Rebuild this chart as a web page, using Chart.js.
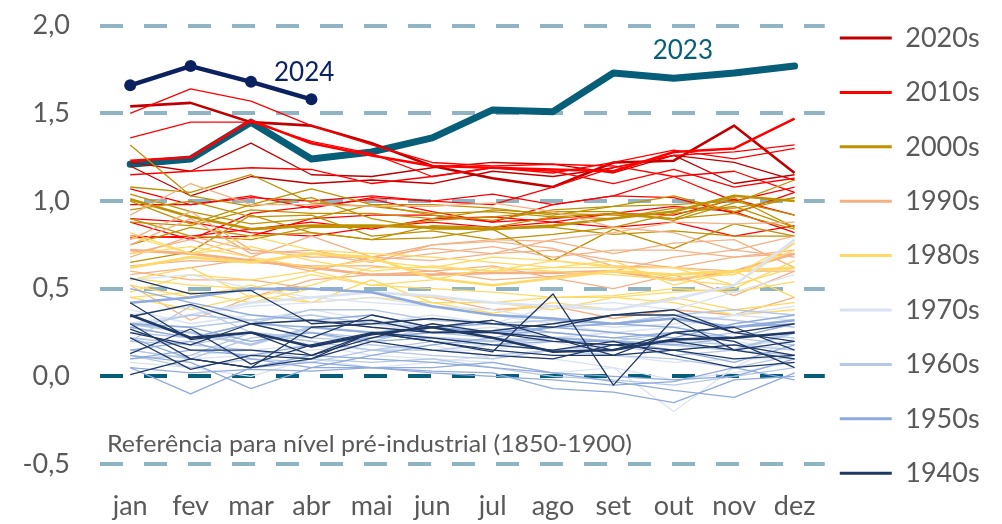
<!DOCTYPE html>
<html>
<head>
<meta charset="utf-8">
<script src="https://cdn.jsdelivr.net/npm/chart.js@4.4.0/dist/chart.umd.min.js"></script>
<style>
  html, body { margin: 0; padding: 0; background: #fff; }
</style>
</head>
<body>
<canvas id="mycanvas" width="1002" height="524"></canvas>
<script>
var months = ['jan','fev','mar','abr','mai','jun','jul','ago','set','out','nov','dez'];
var yTicks = [-0.5, 0, 0.5, 1, 1.5, 2];
var decades = ['2020s','2010s','2000s','1990s','1980s','1970s','1960s','1950s','1940s'];

var y2024 = [1.66,1.77,1.68,1.58];
var y2023 = [1.21,1.24,1.45,1.24,1.28,1.36,1.52,1.51,1.73,1.70,1.73,1.77];

// one row per year, first row of each decade is the named (thicker) one
var y2020s = [
  [1.54,1.56,1.45,1.43,1.33,1.20,1.13,1.08,1.22,1.23,1.43,1.16],
  [1.20,1.03,1.14,1.10,1.12,1.10,1.17,1.14,1.19,1.26,1.22,1.12],
  [1.22,1.17,1.33,1.15,1.14,1.19,1.22,1.21,1.16,1.26,1.10,1.15]
];
var y2010s = [
  [1.23,1.25,1.46,1.33,1.26,1.20,1.19,1.18,1.17,1.28,1.30,1.47],
  [1.50,1.64,1.57,1.43,1.32,1.22,1.20,1.21,1.20,1.14,1.17,1.05],
  [1.36,1.45,1.45,1.34,1.27,1.14,1.19,1.17,1.10,1.18,1.08,1.13],
  [1.15,1.17,1.19,1.18,1.10,1.14,1.19,1.16,1.22,1.29,1.24,1.30],
  [1.07,0.98,1.02,1.00,1.03,1.00,1.04,0.98,1.03,1.14,1.00,1.08],
  [0.98,0.98,1.03,0.96,1.02,1.00,0.98,1.08,1.19,1.26,1.28,1.32],
  [0.88,0.78,0.93,0.97,1.01,0.94,0.88,0.98,1.03,1.02,0.93,1.05],
  [0.90,0.88,0.82,0.80,0.85,0.88,0.85,0.88,0.93,0.92,1.01,0.92],
  [0.80,0.79,0.80,0.90,0.92,0.92,0.88,0.90,0.93,0.97,0.94,0.82],
  [0.79,0.80,0.84,0.88,0.84,0.90,0.91,0.88,0.85,0.88,0.80,0.86]
];
var y2000s = [
  [1.01,0.91,0.84,0.86,0.86,0.85,0.84,0.86,0.90,0.94,1.03,1.00],
  [0.88,0.86,0.95,0.93,0.93,0.90,0.95,0.93,0.92,0.90,1.02,0.85],
  [1.08,1.05,1.15,0.99,0.97,0.93,0.94,0.91,0.93,0.90,0.93,0.84],
  [1.04,0.94,0.87,0.90,0.98,0.92,0.89,0.95,0.97,1.03,0.94,1.02],
  [0.95,1.00,0.91,0.92,0.80,0.83,0.78,0.81,0.85,0.93,0.97,0.85],
  [1.00,0.87,0.98,1.07,0.98,0.98,0.96,0.92,0.97,0.98,1.00,0.92],
  [0.75,0.85,0.80,0.82,0.78,0.86,0.85,0.91,0.90,0.96,0.96,1.02],
  [1.32,1.03,0.97,1.02,0.90,0.84,0.84,0.85,0.81,0.83,0.80,0.80],
  [0.65,0.71,0.92,0.82,0.78,0.79,0.84,0.66,0.84,0.73,0.87,0.80],
  [0.90,0.80,0.78,0.85,0.85,0.89,0.91,0.94,0.94,0.89,0.99,1.12]
];
var y1990s = [
  [0.72,0.70,0.66,0.62,0.58,0.58,0.59,0.59,0.60,0.55,0.60,0.70],
  [0.70,0.78,0.68,0.80,0.68,0.75,0.77,0.73,0.63,0.62,0.60,0.60],
  [0.60,0.55,0.55,0.50,0.48,0.45,0.38,0.40,0.33,0.38,0.35,0.45],
  [0.63,0.66,0.65,0.63,0.63,0.60,0.63,0.56,0.50,0.58,0.46,0.60],
  [0.52,0.32,0.45,0.55,0.58,0.60,0.55,0.57,0.60,0.68,0.72,0.68],
  [0.78,0.94,0.72,0.70,0.65,0.75,0.78,0.77,0.70,0.76,0.78,0.62],
  [0.68,0.80,0.72,0.68,0.68,0.66,0.70,0.72,0.66,0.62,0.68,0.70],
  [0.58,0.62,0.67,0.60,0.68,0.73,0.70,0.78,0.82,0.88,0.87,0.88],
  [0.92,1.10,0.98,0.98,0.97,0.97,0.99,0.94,0.85,0.82,0.72,0.80],
  [0.75,0.90,0.70,0.72,0.66,0.70,0.74,0.68,0.72,0.72,0.68,0.72]
];
var y1980s = [
  [0.62,0.68,0.65,0.70,0.68,0.56,0.52,0.56,0.60,0.58,0.60,0.62],
  [0.80,0.70,0.74,0.66,0.60,0.63,0.60,0.66,0.63,0.56,0.58,0.72],
  [0.45,0.48,0.42,0.50,0.48,0.45,0.42,0.38,0.45,0.48,0.50,0.66],
  [0.70,0.74,0.68,0.62,0.66,0.62,0.60,0.62,0.66,0.52,0.60,0.45],
  [0.52,0.45,0.52,0.42,0.55,0.42,0.42,0.45,0.45,0.42,0.35,0.38],
  [0.45,0.38,0.46,0.42,0.45,0.42,0.36,0.42,0.38,0.45,0.38,0.42],
  [0.56,0.52,0.50,0.58,0.52,0.50,0.48,0.45,0.46,0.50,0.48,0.54],
  [0.55,0.62,0.45,0.52,0.62,0.62,0.68,0.66,0.62,0.62,0.58,0.76],
  [0.82,0.70,0.80,0.72,0.70,0.68,0.65,0.62,0.62,0.62,0.52,0.62],
  [0.48,0.58,0.55,0.60,0.52,0.55,0.62,0.60,0.58,0.55,0.52,0.76]
];
var y1970s = [
  [0.30,0.35,0.42,0.45,0.48,0.46,0.42,0.40,0.38,0.44,0.52,0.78],
  [0.35,0.40,0.32,0.38,0.32,0.28,0.25,0.22,0.25,0.22,0.20,0.15],
  [0.15,0.10,0.12,0.15,0.18,0.15,0.15,0.20,0.12,0.15,0.18,0.20],
  [0.55,0.58,0.50,0.45,0.42,0.40,0.35,0.30,0.25,0.22,0.18,0.12],
  [0.10,0.12,0.15,0.18,0.15,0.18,0.10,0.15,0.12,0.08,0.10,0.10],
  [0.22,0.20,0.25,0.18,0.12,0.10,0.08,0.02,0.05,-0.02,0.02,0.08],
  [0.08,0.05,0.00,0.10,0.05,0.08,0.12,0.10,0.05,-0.20,0.05,0.22],
  [0.30,0.35,0.40,0.42,0.45,0.40,0.38,0.32,0.28,0.30,0.35,0.40],
  [0.38,0.30,0.35,0.32,0.30,0.25,0.28,0.22,0.25,0.28,0.35,0.32],
  [0.28,0.22,0.30,0.32,0.30,0.35,0.30,0.40,0.42,0.38,0.48,0.58]
];
var y1960s = [
  [0.30,0.25,0.18,0.28,0.25,0.22,0.20,0.22,0.20,0.18,0.15,0.25],
  [0.28,0.35,0.32,0.35,0.30,0.28,0.25,0.25,0.22,0.20,0.18,0.15],
  [0.30,0.28,0.32,0.25,0.22,0.25,0.22,0.20,0.18,0.20,0.25,0.22],
  [0.20,0.40,0.25,0.22,0.20,0.28,0.25,0.28,0.30,0.35,0.32,0.28],
  [0.22,0.18,0.15,0.10,0.08,0.10,0.05,0.00,-0.02,-0.05,0.00,0.05],
  [0.12,0.05,0.10,0.08,0.15,0.12,0.10,0.15,0.12,0.10,0.05,0.12],
  [0.20,0.18,0.25,0.20,0.15,0.20,0.18,0.15,0.18,0.12,0.15,0.10],
  [0.15,0.10,0.22,0.25,0.18,0.15,0.18,0.22,0.20,0.25,0.22,0.18],
  [0.10,0.12,0.25,0.20,0.15,0.15,0.12,0.15,0.18,0.20,0.15,0.12],
  [0.25,0.22,0.30,0.38,0.38,0.32,0.30,0.32,0.30,0.35,0.38,0.35]
];
var y1950s = [
  [0.42,0.45,0.50,0.50,0.48,0.40,0.35,0.33,0.30,0.33,0.28,0.32],
  [0.05,-0.10,0.05,0.12,0.10,0.08,0.05,0.02,0.00,-0.02,0.00,0.10],
  [0.12,0.08,-0.07,0.05,0.12,0.18,0.22,0.28,0.30,0.28,0.22,0.30],
  [0.30,0.28,0.20,0.25,0.20,0.22,0.18,0.20,0.20,0.15,0.08,0.18],
  [0.15,0.20,0.10,0.05,0.05,0.02,0.00,-0.02,-0.05,-0.03,0.05,-0.02],
  [0.22,0.10,0.05,0.08,0.05,0.05,0.08,0.02,-0.03,-0.08,-0.12,0.02],
  [0.05,0.02,0.04,0.03,0.05,0.03,0.02,-0.07,-0.09,-0.15,-0.02,0.00],
  [0.10,0.15,0.12,0.18,0.22,0.25,0.25,0.28,0.25,0.22,0.30,0.35],
  [0.50,0.42,0.35,0.32,0.35,0.28,0.30,0.25,0.22,0.25,0.28,0.30],
  [0.28,0.22,0.30,0.28,0.25,0.28,0.25,0.22,0.20,0.18,0.22,0.25]
];
var y1940s = [
  [0.35,0.22,0.25,0.17,0.24,0.28,0.22,0.14,0.15,0.21,0.22,0.25],
  [0.42,0.21,0.25,0.12,0.22,0.30,0.25,0.22,0.15,0.25,0.28,0.15],
  [0.56,0.47,0.49,0.30,0.32,0.25,0.26,0.30,0.35,0.38,0.25,0.20],
  [0.13,0.27,0.07,0.18,0.25,0.20,0.14,0.47,-0.05,0.33,0.15,0.10],
  [0.01,0.10,0.05,0.28,0.30,0.33,0.30,0.28,0.35,0.35,0.25,0.30],
  [0.34,0.41,0.30,0.22,0.35,0.28,0.32,0.22,0.12,0.25,0.20,0.05],
  [0.27,0.15,0.15,0.12,0.25,0.20,0.15,0.12,0.12,0.15,0.10,0.12],
  [0.22,0.04,0.12,0.10,0.20,0.15,0.12,0.10,0.18,0.20,0.15,0.20],
  [0.30,0.10,0.05,0.10,0.25,0.22,0.18,0.15,0.20,0.12,0.05,0.08],
  [0.25,0.18,0.30,0.32,0.28,0.25,0.25,0.20,0.18,0.15,0.18,0.12]
];

var decadeRows = {
  '2020s': y2020s, '2010s': y2010s, '2000s': y2000s, '1990s': y1990s, '1980s': y1980s,
  '1970s': y1970s, '1960s': y1960s, '1950s': y1950s, '1940s': y1940s
};
var decadeColors = {
  '2020s': '#C00000', '2010s': '#FF0000', '2000s': '#BF9000', '1990s': '#F4B183', '1980s': '#FFD966',
  '1970s': '#DAE3F3', '1960s': '#B4C7E7', '1950s': '#8FAADC', '1940s': '#203864'
};
var grey = '#595959';
var teal = '#065E78';
var navy = '#0C2260';

// older decades first in the array -> drawn on top (Chart.js draws index 0 last)
var datasets = [];
decades.slice().reverse().forEach(function(d) {
  decadeRows[d].forEach(function(row, i) {
    datasets.push({
      label: d,
      data: row,
      borderColor: decadeColors[d],
      borderWidth: i === 0 ? 2.6 : 1.3,
      pointRadius: 0,
      tension: 0,
      borderJoinStyle: 'round'
    });
  });
});
datasets.push({ label: '2023', data: y2023, borderColor: teal, borderWidth: 7, pointRadius: 0,
  borderJoinStyle: 'round', borderCapStyle: 'round' });
datasets.push({ label: '2024', data: y2024, borderColor: navy, backgroundColor: navy, borderWidth: 4.5,
  pointRadius: 6, pointBorderWidth: 0, borderJoinStyle: 'round' });

// nudge the legend box so its entries sit where the reference has them
var legendShift = {
  id: 'legendShift',
  afterLayout: function(chart) {
    var l = chart.legend;
    l.left -= 12.4; l.right -= 12.4;
    l.top -= 6.4; l.bottom -= 6.4;
  }
};

var notes = {
  id: 'notes',
  afterDatasetsDraw: function(chart) {
    var ctx = chart.ctx, x = chart.scales.x, y = chart.scales.y;
    ctx.save();
    ctx.textAlign = 'center';
    ctx.textBaseline = 'middle';
    ctx.font = '26px Lato';
    ctx.fillStyle = navy;
    ctx.fillText('2024', x.getPixelForValue(2.88), y.getPixelForValue(1.73));
    ctx.fillStyle = teal;
    ctx.fillText('2023', x.getPixelForValue(9.15), y.getPixelForValue(1.86));

    var txt = 'Referência para nível pré-industrial (1850-1900)';
    ctx.font = '23px Lato';
    ctx.fillStyle = grey;
    ctx.textAlign = 'left';
    var w = ctx.measureText(txt).width;
    ctx.translate(chart.chartArea.left + 7, y.getPixelForValue(-0.39));
    ctx.scale(525 / w, 1);
    ctx.fillText(txt, 0, 0);
    ctx.restore();
  }
};

var ctx = document.getElementById('mycanvas');
var lineChart = new Chart(ctx, {
  type: 'line',
  data: { labels: months, datasets: datasets },
  options: {
    responsive: false,
    animation: false,
    events: [],
    layout: { padding: 0 },
    plugins: {
      tooltip: { enabled: false },
      legend: {
        position: 'right',
        align: 'center',
        maxWidth: 182,
        labels: {
          boxWidth: 52,
          boxHeight: 3,
          padding: 27.4,
          color: grey,
          font: { family: 'Lato', size: 27 },
          generateLabels: function(chart) {
            return decades.map(function(d) {
              return { text: d, fillStyle: decadeColors[d], strokeStyle: decadeColors[d],
                lineWidth: 0, hidden: false, fontColor: grey };
            });
          }
        }
      }
    },
    scales: {
      x: {
        offset: true,
        grid: { display: false, drawTicks: false },
        border: { display: false },
        ticks: { color: grey, font: { family: 'Lato', size: 27 }, padding: 26, maxRotation: 0, autoSkip: false },
        afterFit: function(s) { s.height = 60; s.paddingLeft = 0; s.paddingRight = 0; }
      },
      y: {
        min: -0.5,
        max: 2.1126,
        afterBuildTicks: function(s) { s.ticks = yTicks.map(function(v) { return { value: v }; }); },
        afterFit: function(s) { s.width = 100; s.paddingTop = 0; s.paddingBottom = 0; },
        ticks: {
          color: grey,
          font: { family: 'Lato', size: 27 },
          padding: 30,
          callback: function(v) { return v.toFixed(1).replace('.', ','); }
        },
        grid: {
          drawTicks: false,
          lineWidth: 4,
          color: function(c) { return c.tick && c.tick.value === 0 ? teal : '#8FB4C4'; }
        },
        border: { display: false, dash: [23, 21] }
      }
    }
  },
  plugins: [legendShift, notes]
});
</script>
</body>
</html>
